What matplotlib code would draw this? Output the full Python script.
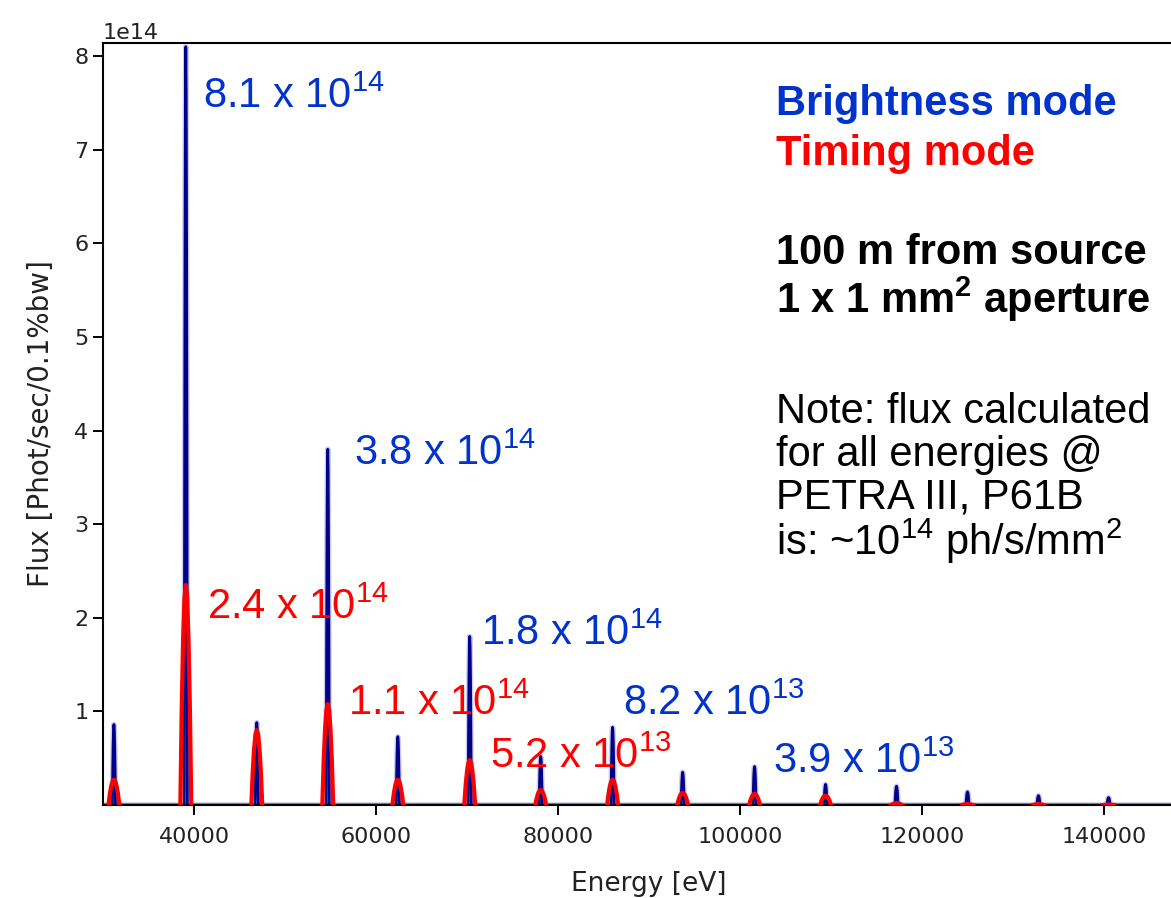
import numpy as np
import matplotlib
matplotlib.use("Agg")
import matplotlib.pyplot as plt

# Harmonic peaks of the undulator spectrum
peak_energy = [31200, 39100, 46900, 54700, 62400, 70300, 78100, 86000,
               93700, 101600, 109400, 117200, 125000, 132800, 140500]
# peak flux in units of 1e14 Phot/sec/0.1%bw
flux_brightness = [0.86, 8.1, 0.88, 3.8, 0.73, 1.8, 0.52, 0.83,
                   0.35, 0.41, 0.22, 0.20, 0.14, 0.10, 0.08]
flux_timing = [0.27, 2.35, 0.80, 1.08, 0.27, 0.48, 0.16, 0.27,
               0.13, 0.12, 0.10, 0.02, 0.01, 0.01, 0.005]

# annotated peak values
labels_brightness = ["8.1 x 10$^{14}$", "3.8 x 10$^{14}$", "1.8 x 10$^{14}$",
                     "8.2 x 10$^{13}$", "3.9 x 10$^{13}$"]
labels_timing = ["2.4 x 10$^{14}$", "1.1 x 10$^{14}$", "5.2 x 10$^{13}$"]

# shape of a single peak (relative offset / relative height)
profil_x = [-1, -0.75, -0.5, -0.25, 0, 0.25, 0.5, 0.75, 1]
profil_y = [0, 0.44, 0.75, 0.94, 1, 0.94, 0.75, 0.44, 0]

plt.rcParams['mathtext.fontset'] = 'custom'
plt.rcParams['mathtext.rm'] = 'Liberation Sans'
plt.rcParams['mathtext.it'] = 'Liberation Sans:italic'
plt.rcParams['mathtext.bf'] = 'Liberation Sans:bold'

E_min, E_max = 30000, 150000

# Mode brillance : courbe continue avec des pics etroits
xb, yb = [E_min], [0]
for e, f in zip(peak_energy, flux_brightness):
    for px, py in zip(profil_x, profil_y):
        xb.append(e + px * 170)
        yb.append(py * f * 1e14)
xb.append(E_max)
yb.append(0)

# Mode timing : seulement autour des pics, pics plus larges
xt, yt = [], []
for e, f in zip(peak_energy, flux_timing):
    for px, py in zip(profil_x, profil_y):
        xt.append(e + px * 600)
        yt.append(py * f * 1e14)
    xt.append(np.nan)
    yt.append(np.nan)

W, H = 1171, 898
fig = plt.figure(figsize=(W / 100, H / 100), dpi=100)
ax = fig.add_axes([103 / W, 1 - 805 / H, 1092 / W, 762 / H])

ax.plot(xb, yb, color="#8080c8", lw=4, alpha=0.4, solid_joinstyle="round")
ax.plot(xb, yb, color="darkblue", lw=2, solid_joinstyle="round")
ax.plot(xt, yt, color="red", lw=3, zorder=3, solid_joinstyle="round")

ax.set_xlim(E_min, E_max)
ax.set_ylim(0, 8.14e14)
ax.set_xticks([40000, 60000, 80000, 100000, 120000, 140000])
ax.set_yticks(np.arange(1, 9) * 1e14)
ax.tick_params(labelsize=16, length=7, width=1.4, labelcolor="#222222")
ax.tick_params(axis="x", pad=9)
ax.yaxis.get_offset_text().set_fontsize(16)
for s in ax.spines.values():
    s.set_linewidth(1.5)
ax.set_xlabel("Energy [eV]", fontsize=19, labelpad=17, color="#222222")
ax.set_ylabel("Flux [Phot/sec/0.1%bw]", fontsize=20, labelpad=14, color="#222222")

# Valeurs des pics
fam = "Liberation Sans"
bx = [41000, 57600, 71550, 87150, 103600]
by = [7.45, 3.63, 1.71, 0.96, 0.34]
for s, x, y in zip(labels_brightness, bx, by):
    ax.text(x, y * 1e14, s, color="#0033cc", fontsize=30, family=fam,
            va="baseline", zorder=4)
tx = [41430, 56930, 72530]
ty = [1.99, 0.96, 0.40]
for s, x, y in zip(labels_timing, tx, ty):
    ax.text(x, y * 1e14, s, color="red", fontsize=30, family=fam,
            va="baseline", zorder=4)

# Texte a droite
def ftext(px, py, s, **kw):
    fig.text(px / W, 1 - py / H, s, fontsize=30, family=fam,
             va="baseline", ha="left", **kw)

ftext(776, 115, "Brightness mode", color="#0033cc", weight="bold")
ftext(776, 165, "Timing mode", color="red", weight="bold")
ftext(776, 264, "100 m from source", weight="bold")
ftext(776, 313, r"1 x 1 mm$^\mathbf{2}$ aperture", weight="bold")
ftext(776, 423, "Note: flux calculated")
ftext(776, 466, "for all energies @")
ftext(776, 509, "PETRA III, P61B")
ftext(776, 555, "is: ~10$^{14}$ ph/s/mm$^{2}$")

fig.savefig("out.png", dpi=100)
